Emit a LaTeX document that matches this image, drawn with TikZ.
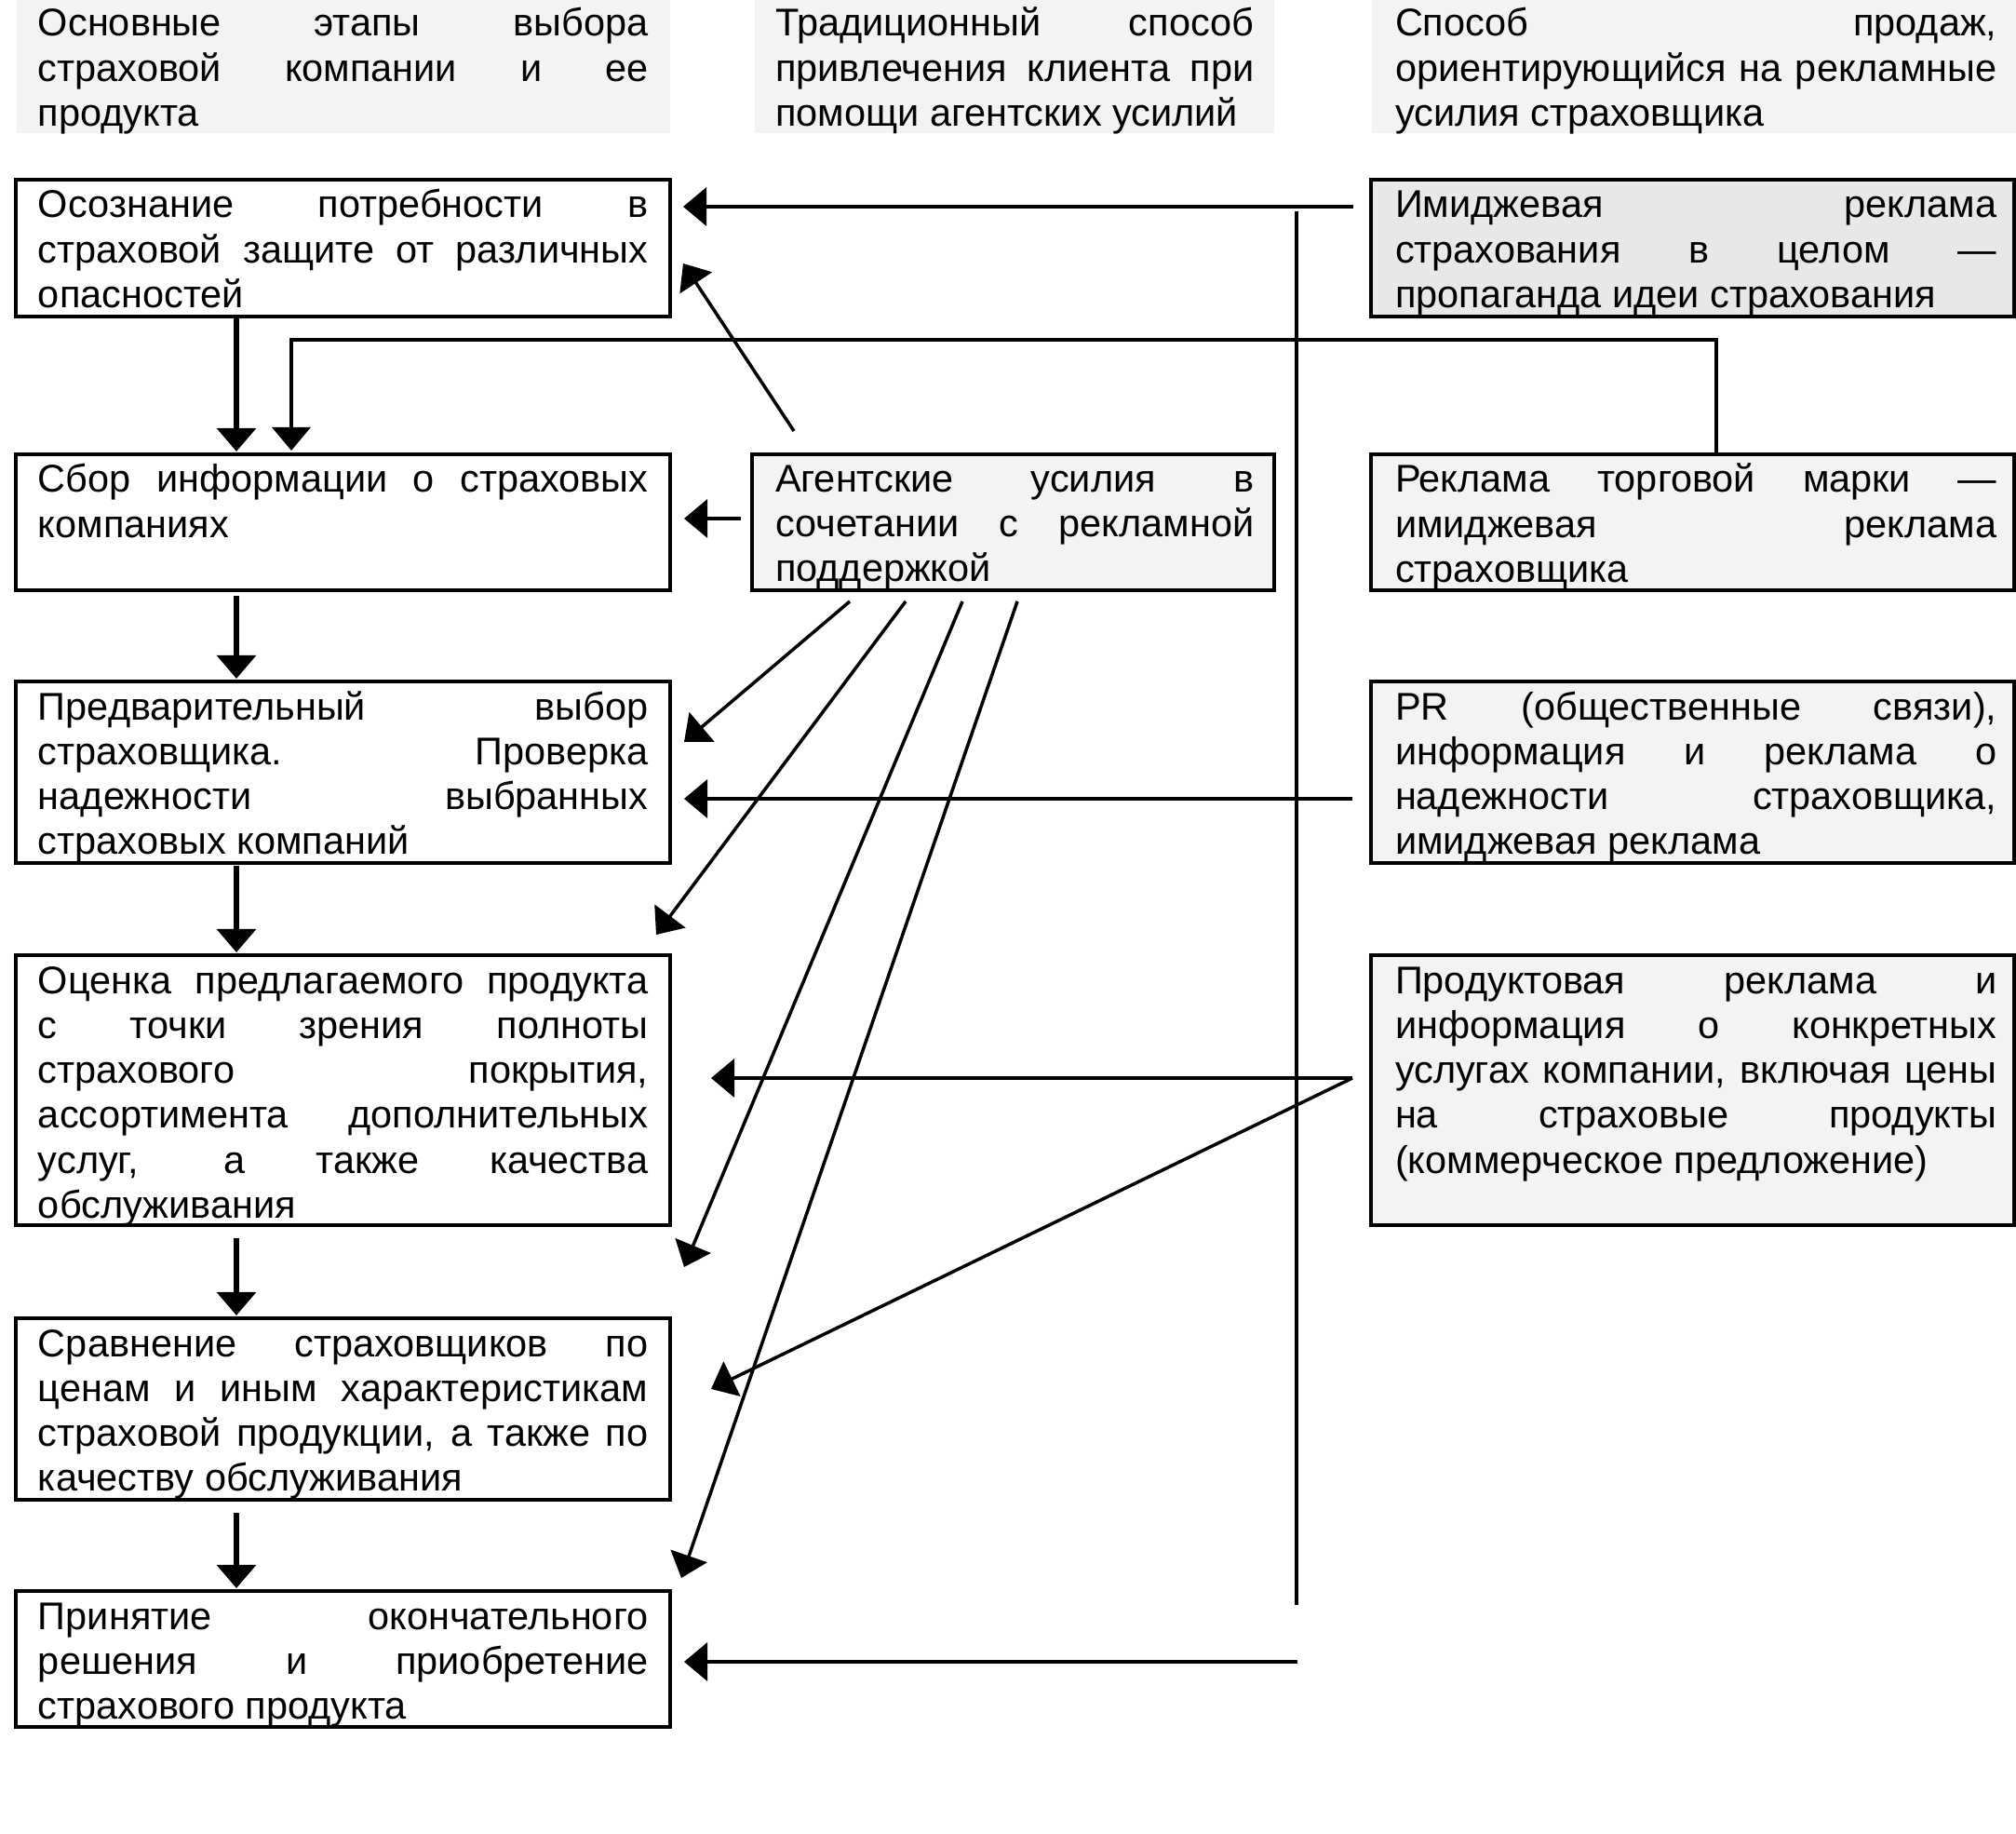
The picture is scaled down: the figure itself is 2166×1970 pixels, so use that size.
\documentclass[tikz,border=0pt]{standalone}
\usepackage{fontspec}
\setmainfont{Liberation Sans}
\usetikzlibrary{arrows.meta,fit}
\definecolor{hdrfill}{HTML}{F3F3F3}
\definecolor{boxfill}{HTML}{F3F3F3}
\definecolor{darkfill}{HTML}{E8E8E8}
\hbadness=10000
\hfuzz=8pt
\tolerance=10000
\hyphenpenalty=10000
\exhyphenpenalty=10000
\tikzset{
  boxline/.style={draw=black, line width=0.9pt, inner sep=0pt, outer sep=0pt},
  stagebox/.style={boxline, fill=white},
  greybox/.style={boxline, fill=boxfill},
  darkbox/.style={boxline, fill=darkfill},
  hdrbox/.style={fill=hdrfill, draw=none, inner sep=0pt, outer sep=0pt},
  txt/.style={inner sep=0pt, outer sep=0pt, anchor=base west, align=justify,
    font=\fontsize{11.8pt}{13.74pt}\selectfont},
  lefttxt/.style={txt, text width=6.55cm},
  midtxt/.style={txt, text width=5.14cm},
  righttxt/.style={txt, text width=6.46cm},
  conn/.style={line width=1pt},
  arr/.style={conn, -{Triangle[length=0.25cm,width=0.41cm]}},
  thickarr/.style={line width=1.8pt, -{Triangle[length=0.25cm,width=0.41cm]}},
}
\begin{document}
\begin{tikzpicture}[x=0.01cm, y=-0.01cm]
\useasboundingbox (0,0) rectangle (2166,1970);

% ---------- headers ----------
\node[hdrbox, fit={(18,0) (720,143)}] (h1) {};
\node[hdrbox, fit={(811,0) (1369,143)}] (h2) {};
\node[hdrbox, fit={(1474,0) (2166,143)}] (h3) {};
\node[lefttxt] (h1t) at (41,39) {Основные этапы выбора\linebreak страховой компании и ее\linebreak продукта};
\node[midtxt] (h2t) at (833,39) {Традиционный способ\linebreak привлечения клиента при\linebreak помощи агентских усилий};
\node[righttxt] (h3t) at (1499,39) {Способ продаж,\linebreak ориентирующийся на рекламные\linebreak усилия страховщика};

% ---------- left column ----------
\node[stagebox, fit={(17,193) (720,340)}] (b1) {};
\node[stagebox, fit={(17,488) (720,634)}] (b2) {};
\node[stagebox, fit={(17,732) (720,927)}] (b3) {};
\node[stagebox, fit={(17,1026) (720,1316)}] (b4) {};
\node[stagebox, fit={(17,1416) (720,1611)}] (b5) {};
\node[stagebox, fit={(17,1709) (720,1855)}] (b6) {};
\node[lefttxt] (b1t) at (41,234) {Осознание потребности в\linebreak страховой защите от различных\linebreak опасностей};
\node[lefttxt] (b2t) at (41,529) {Сбор информации о страховых\linebreak компаниях};
\node[lefttxt] (b3t) at (41,773) {Предварительный выбор\linebreak страховщика. Проверка\linebreak надежности выбранных\linebreak страховых компаний};
\node[lefttxt] (b4t) at (41,1067) {Оценка предлагаемого продукта\linebreak с точки зрения полноты\linebreak страхового покрытия,\linebreak ассортимента дополнительных\linebreak услуг, а также качества\linebreak обслуживания};
\node[lefttxt] (b5t) at (41,1457) {Сравнение страховщиков по\linebreak ценам и иным характеристикам\linebreak страховой продукции, а также по\linebreak качеству обслуживания};
\node[lefttxt] (b6t) at (41,1750) {Принятие окончательного\linebreak решения и приобретение\linebreak страхового продукта};

% ---------- middle ----------
\node[greybox, fit={(808,488) (1369,634)}] (ag) {};
\node[midtxt] (agt) at (833,528) {Агентские усилия в\linebreak сочетании с рекламной\linebreak поддержкой};

% ---------- right column ----------
\node[darkbox, fit={(1473,193) (2164,340)}] (r1) {};
\node[greybox, fit={(1473,488) (2164,634)}] (r2) {};
\node[greybox, fit={(1473,732) (2164,927)}] (r3) {};
\node[greybox, fit={(1473,1026) (2164,1316)}] (r4) {};
\node[righttxt] (r1t) at (1499,234) {Имиджевая реклама\linebreak страхования в целом —\linebreak пропаганда идеи страхования};
\node[righttxt] (r2t) at (1499,529) {Реклама торговой марки —\linebreak имиджевая реклама\linebreak страховщика};
\node[righttxt] (r3t) at (1499,773) {PR (общественные связи),\linebreak информация и реклама о\linebreak надежности страховщика,\linebreak имиджевая реклама};
\node[righttxt] (r4t) at (1499,1067) {Продуктовая реклама и\linebreak информация о конкретных\linebreak услугах компании, включая цены\linebreak на страховые продукты\linebreak (коммерческое предложение)};

% ---------- connector end points ----------
\coordinate (r1out) at (1454,222);
\coordinate (b1inA) at (734,222);
\coordinate (vtop) at (1393,227);
\coordinate (vbot) at (1393,1724);
\coordinate (r2top) at (1844,488);
\coordinate (b2inB) at (313,484);
\coordinate (agUp) at (853,463);
\coordinate (b1inB) at (734,283);
\coordinate (agLeft) at (796,557);
\coordinate (b2inA) at (735,557);
\coordinate (agF1) at (913,646);
\coordinate (b3inA) at (735,797);
\coordinate (agF2) at (973,646);
\coordinate (b4inA) at (705,1004);
\coordinate (agF3) at (1034,646);
\coordinate (b5inA) at (735,1361);
\coordinate (agF4) at (1093,646);
\coordinate (b6inA) at (732,1695);
\coordinate (r3out) at (1453,858);
\coordinate (b3inB) at (735,858);
\coordinate (r4out) at (1453,1158);
\coordinate (b4inB) at (764,1158);
\coordinate (b5inB) at (764,1492);
\coordinate (vout) at (1394,1785);
\coordinate (b6inB) at (735,1785);
\coordinate (s1) at (254,340);
\coordinate (s2) at (254,640);
\coordinate (s3) at (254,930);
\coordinate (s4) at (254,1330);
\coordinate (s5) at (254,1625);
\coordinate (t1) at (254,485);
\coordinate (t2) at (254,729);
\coordinate (t3) at (254,1023);
\coordinate (t4) at (254,1413);
\coordinate (t5) at (254,1706);

% ---------- main flow ----------
\draw[thickarr] (s1) -- (t1);
\draw[thickarr] (s2) -- (t2);
\draw[thickarr] (s3) -- (t3);
\draw[thickarr] (s4) -- (t4);
\draw[thickarr] (s5) -- (t5);

% ---------- advertising connectors ----------
\draw[arr] (r1out) -- (b1inA);
\draw[conn] (vtop) -- (vbot);
\draw[arr] (r2top) -- ++(0,-123) -| (b2inB);
\draw[arr] (r3out) -- (b3inB);
\draw[arr] (r4out) -- (b4inB);
\draw[arr] (r4out) -- (b5inB);
\draw[arr] (vout) -- (b6inB);

% ---------- agent connectors ----------
\draw[arr] (agUp) -- (b1inB);
\draw[arr] (agLeft) -- (b2inA);
\draw[arr] (agF1) -- (b3inA);
\draw[arr] (agF2) -- (b4inA);
\draw[arr] (agF3) -- (b5inA);
\draw[arr] (agF4) -- (b6inA);
\end{tikzpicture}
\end{document}
